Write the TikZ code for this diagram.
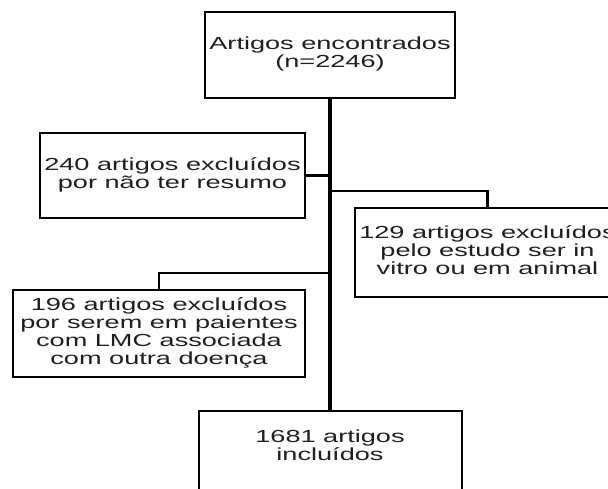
\documentclass[tikz,border=0pt]{standalone}
\usepackage{fontspec}
\setmainfont{Liberation Sans}
\usepackage{graphicx}
\newcommand\boxtext[1]{\scalebox{1.55}[1]{\begin{tabular}{@{}c@{}}#1\end{tabular}}}
\begin{document}
\begin{tikzpicture}[x=1pt,y=-1pt,
  box/.style={draw=black, line width=2.6pt, inner sep=0pt, fill=white,
    font=\fontsize{17.5}{17.5}\selectfont, text=black!88},
  plain/.style={inner sep=0pt, font=\fontsize{17.5}{17.5}\selectfont, text=black!88},
  link/.style={draw=black, line width=2.4pt, line join=miter}]
\useasboundingbox (0,0) rectangle (608,489);
\clip (0,0) rectangle (608,489);
\fill[white] (0,0) rectangle (608,489);
\node[box, minimum width=250pt, minimum height=86pt] (top) at (330,55)
  {\boxtext{Artigos encontrados\\(n=2246)}};
\node[box, minimum width=265pt, minimum height=85pt] (ex1) at (172.5,175.5)
  {\boxtext{240 artigos excluídos\\por não ter resumo}};
\node[box, minimum width=265pt, minimum height=89pt] (ex2) at (487.5,252.5)
  {\boxtext{129 artigos excluídos\\pelo estudo ser in\\vitro ou em animal}};
\node[box, minimum width=292pt, minimum height=87pt] (ex3) at (159,333.5)
  {\boxtext{196 artigos excluídos\\por serem em paientes\\com LMC associada\\com outra doença}};
\node[box, minimum width=263pt, minimum height=90pt] (inc) at (330.5,456) {};
\node[plain] (inct) at (330,448) {\boxtext{1681 artigos\\incluídos}};
\coordinate (j1) at (330,191);
\coordinate (j2) at (330,273);
\draw[line width=4pt] (top.south) -- (top.south |- inc.north);
\draw[link, line width=2.2pt] (ex1.east) -- (ex1.east -| top.south);
\draw[link] (j1) -| (ex2.north);
\draw[link] (j2) -| (ex3.north);
\end{tikzpicture}
\end{document}
